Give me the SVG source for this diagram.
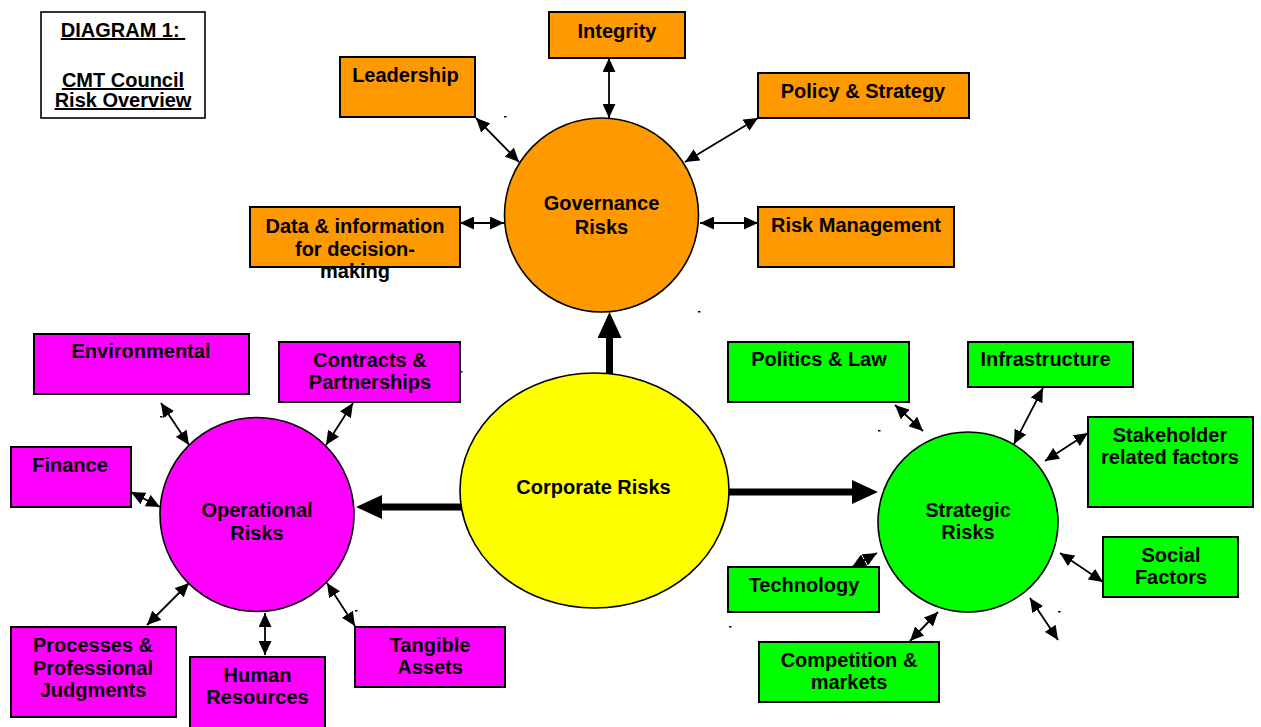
<svg xmlns="http://www.w3.org/2000/svg" width="1261" height="727" viewBox="0 0 1261 727">
<style>
text{font-family:"Liberation Sans",Arial,sans-serif;font-weight:bold;font-size:20px;fill:#000;text-anchor:middle}
.box{stroke:#000;stroke-width:2}
.gov{fill:#FF9900}.op{fill:#FF00FF}.st{fill:#00FF00}.corp{fill:#FFFF00}
.circ{stroke:#000;stroke-width:1.6}
.thin{stroke:#000;stroke-width:1.8;fill:none;marker-start:url(#ah);marker-end:url(#ah)}
.thick{stroke:#000;stroke-width:7;fill:none;marker-end:url(#big)}
.ul{text-decoration:underline}
</style>
<defs>
<marker id="ah" markerUnits="userSpaceOnUse" markerWidth="14" markerHeight="13" refX="14" refY="6.5" orient="auto-start-reverse" viewBox="0 0 14 13">
<path d="M0,0 L14,6.5 L0,13 z" fill="#000"/>
</marker>
<marker id="big" markerUnits="userSpaceOnUse" markerWidth="26" markerHeight="24" refX="0" refY="12" orient="auto" viewBox="0 0 26 24">
<path d="M0,0 L26,12 L0,24 z" fill="#000"/>
</marker>
</defs>
<rect x="0" y="0" width="1261" height="727" fill="#fff"/>

<g id="title">
<rect x="41" y="12" width="164" height="106" fill="#fff" stroke="#000" stroke-width="1.6"/>
<text x="123" y="37" class="ul">DIAGRAM 1:&#160;</text>
<text x="123" y="87" class="ul">CMT Council</text>
<text x="123" y="107" class="ul">Risk Overview</text>
</g>

<g id="connectors">
<line class="thick" x1="609.5" y1="377" x2="609.5" y2="338"/>
<line class="thick" x1="464" y1="507" x2="382" y2="507"/>
<line class="thick" x1="726" y1="492" x2="852" y2="492"/>
<line class="thin" x1="609" y1="58" x2="609" y2="118"/>
<line class="thin" x1="476" y1="118" x2="519" y2="162"/>
<line class="thin" x1="460" y1="223" x2="504" y2="223"/>
<line class="thin" x1="758" y1="118" x2="685" y2="162"/>
<line class="thin" x1="700" y1="223" x2="758" y2="223"/>
<line class="thin" x1="161" y1="403" x2="189" y2="445"/>
<line class="thin" x1="353" y1="403" x2="326" y2="445"/>
<line class="thin" x1="131" y1="492" x2="160" y2="507"/>
<line class="thin" x1="147" y1="625" x2="189" y2="583"/>
<line class="thin" x1="265" y1="613" x2="265" y2="655"/>
<line class="thin" x1="327" y1="583" x2="355" y2="626"/>
<line class="thin" x1="895" y1="405" x2="923" y2="431"/>
<line class="thin" x1="1043" y1="388" x2="1014" y2="444"/>
<line class="thin" x1="1088" y1="433" x2="1045" y2="461"/>
<line class="thin" x1="1060" y1="553" x2="1103" y2="582"/>
<line class="thin" x1="852" y1="567" x2="877" y2="553"/>
<line class="thin" x1="910" y1="641" x2="938" y2="612"/>
<line class="thin" x1="1030" y1="598" x2="1058" y2="640"/>
</g>

<g id="governance-risks">
<circle class="gov circ" cx="601.5" cy="215" r="97"/>
<text x="601.5" y="210">Governance</text>
<text x="601.5" y="234">Risks</text>
</g>
<g id="integrity"><rect class="gov box" x="549" y="12" width="136" height="46"/><text x="617" y="38">Integrity</text></g>
<g id="leadership"><rect class="gov box" x="340" y="57" width="135" height="60"/><text x="405.5" y="82">Leadership</text></g>
<g id="policy-strategy"><rect class="gov box" x="758" y="73" width="211" height="45"/><text x="863" y="98">Policy &amp; Strategy</text></g>
<g id="data-information"><rect class="gov box" x="250" y="207" width="210" height="60"/><text x="355" y="233">Data &amp; information</text><text x="355" y="255.5">for decision-</text><text x="355" y="278">making</text></g>
<g id="risk-management"><rect class="gov box" x="758" y="207" width="196" height="60"/><text x="856" y="232">Risk Management</text></g>

<g id="corporate-risks">
<ellipse class="corp circ" cx="594.5" cy="490.5" rx="134.5" ry="117.5"/>
<text x="593.5" y="494">Corporate Risks</text>
</g>

<g id="operational-risks">
<circle class="op circ" cx="257" cy="514.5" r="97"/>
<text x="257" y="517">Operational</text>
<text x="257" y="540">Risks</text>
</g>
<g id="environmental"><rect class="op box" x="34" y="334" width="215" height="60"/><text x="141" y="358">Environmental</text></g>
<g id="contracts"><rect class="op box" x="279" y="342" width="181" height="60"/><text x="370" y="367">Contracts &amp;</text><text x="370" y="389">Partnerships</text></g>
<g id="finance"><rect class="op box" x="11" y="447" width="120" height="60"/><text x="70" y="472">Finance</text></g>
<g id="processes"><rect class="op box" x="11" y="627" width="165" height="90"/><text x="93" y="652">Processes &amp;</text><text x="93" y="675">Professional</text><text x="93" y="697">Judgments</text></g>
<g id="human-resources"><rect class="op box" x="190" y="657" width="135" height="80"/><text x="257.5" y="682">Human</text><text x="257.5" y="704">Resources</text></g>
<g id="tangible-assets"><rect class="op box" x="355" y="627" width="150" height="60"/><text x="430" y="652">Tangible</text><text x="430" y="674">Assets</text></g>

<g id="strategic-risks">
<circle class="st circ" cx="968" cy="522" r="90"/>
<text x="968" y="517">Strategic</text>
<text x="968" y="539">Risks</text>
</g>
<g id="politics-law"><rect class="st box" x="728" y="342" width="181" height="60"/><text x="819" y="366">Politics &amp; Law</text></g>
<g id="infrastructure"><rect class="st box" x="968" y="342" width="165" height="45"/><text x="1045.5" y="366">Infrastructure</text></g>
<g id="stakeholder"><rect class="st box" x="1088" y="417" width="165" height="90"/><text x="1170" y="442">Stakeholder</text><text x="1170" y="464">related factors</text></g>
<g id="social-factors"><rect class="st box" x="1103" y="537" width="135" height="60"/><text x="1171" y="562">Social</text><text x="1171" y="584">Factors</text></g>
<g id="technology"><rect class="st box" x="728" y="567" width="151" height="45"/><text x="804" y="592">Technology</text></g>
<g id="competition"><rect class="st box" x="759" y="642" width="180" height="60"/><text x="849" y="667">Competition &amp;</text><text x="849" y="689">markets</text></g>

<g id="specks" fill="#000">
<rect x="504" y="116" width="2.5" height="1.5"/>
<rect x="698" y="311" width="2.5" height="1.5"/>
<rect x="878" y="430" width="2.5" height="1.5"/>
<rect x="1058" y="611" width="2.5" height="1.5"/>
<rect x="729" y="626" width="2.5" height="1.5"/>
<rect x="160" y="416" width="2.5" height="1.5"/>
<rect x="460" y="371" width="2.5" height="1.5"/>
<rect x="355" y="610" width="2.5" height="1.5"/>
</g>
</svg>
